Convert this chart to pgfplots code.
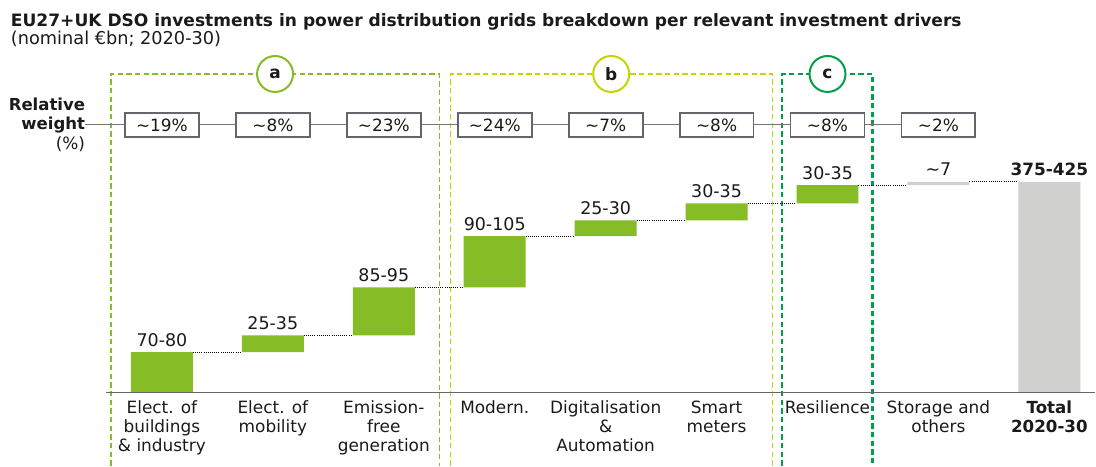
\documentclass[border=0pt]{standalone}
\usepackage{fontspec}
\setmainfont{DejaVu Sans}
\usepackage{pgfplots}
\pgfplotsset{compat=1.18}
\definecolor{dgreen}{HTML}{86BC25}
\definecolor{lgray}{HTML}{D0D0CE}
\definecolor{grpa}{HTML}{86BC25}
\definecolor{grpb}{HTML}{C4D600}
\definecolor{grpc}{HTML}{00A04A}
\definecolor{boxgray}{HTML}{63666A}
\definecolor{linegray}{HTML}{75787B}
\definecolor{txt}{HTML}{1A1A1A}
\pgfplotsset{frame/.style={
  x=83.25pt, y=0.395625pt,
  xmin=-1.4595, xmax=8.4144, ymin=-138.39, ymax=745.02,
  hide axis, clip=false, enlargelimits=false,
  at={(0,0)}, anchor=south west}}
\begin{document}
\begin{tikzpicture}[font=\fontsize{12.7}{14}\selectfont, text=txt]
\begin{axis}[frame, ybar stacked, bar width=46.5pt]
\path (rel axis cs:0,0) rectangle (rel axis cs:1,1);
% baseline
\draw[color=boxgray, line width=1pt] (axis cs:-0.5,0) -- (axis cs:8.4144,0);
% relative weight row line
\draw[linegray, line width=0.75pt] (axis cs:-0.69,508.1) -- (axis cs:7,508.1);
% connectors
\draw[black, densely dotted, line width=0.6pt] (axis cs:0.2793,77) -- (axis cs:0.7207,77);
\draw[black, densely dotted, line width=0.6pt] (axis cs:1.2793,109) -- (axis cs:1.7207,109);
\draw[black, densely dotted, line width=0.6pt] (axis cs:2.2793,200) -- (axis cs:2.7207,200);
\draw[black, densely dotted, line width=0.6pt] (axis cs:3.2793,297) -- (axis cs:3.7207,297);
\draw[black, densely dotted, line width=0.6pt] (axis cs:4.2793,327) -- (axis cs:4.7207,327);
\draw[black, densely dotted, line width=0.6pt] (axis cs:5.2793,359) -- (axis cs:5.7207,359);
\draw[black, densely dotted, line width=0.6pt] (axis cs:6.2793,394) -- (axis cs:6.7207,394);
\draw[black, densely dotted, line width=0.6pt] (axis cs:7.2793,400) -- (axis cs:7.7207,400);
% bars (invisible base + visible increments)
\addplot[draw=none, fill=none] coordinates {(0,0) (1,77) (2,109) (3,200) (4,297) (5,327) (6,359) (7,394) (8,0)};
\addplot[draw=none, fill=dgreen] coordinates {(0,77) (1,32) (2,91) (3,97) (4,30) (5,32) (6,35) (7,0) (8,0)};
\addplot[draw=none, fill=lgray] coordinates {(0,0) (1,0) (2,0) (3,0) (4,0) (5,0) (6,0) (7,6) (8,400)};
% group frames
\draw[grpa, line width=1.1pt, dash pattern=on 4pt off 2.5pt] (axis cs:-0.4595,-138.39) -- (axis cs:-0.4595,604.7) -- (axis cs:2.5,604.7) -- (axis cs:2.5,-138.39);
\draw[grpb, line width=1.1pt, dash pattern=on 4pt off 2.5pt] (axis cs:2.6009,-138.39) -- (axis cs:2.6009,604.7) -- (axis cs:5.5018,604.7) -- (axis cs:5.5018,-138.39);
\draw[grpc, line width=1.7pt, dash pattern=on 4pt off 2.5pt] (axis cs:5.5919,-138.39) -- (axis cs:5.5919,604.7) -- (axis cs:6.4054,604.7) -- (axis cs:6.4054,-138.39);
\end{axis}
\begin{axis}[frame]
\path (rel axis cs:0,0) rectangle (rel axis cs:1,1);
% value labels
\node[anchor=base, font=\fontsize{13.1}{14}\selectfont] at (axis cs:0,88.4) {70-80};
\node[anchor=base, font=\fontsize{13.1}{14}\selectfont] at (axis cs:1,120.4) {25-35};
\node[anchor=base, font=\fontsize{13.1}{14}\selectfont] at (axis cs:2,211.4) {85-95};
\node[anchor=base, font=\fontsize{13.1}{14}\selectfont] at (axis cs:3,308.4) {90-105};
\node[anchor=base, font=\fontsize{13.1}{14}\selectfont] at (axis cs:4,338.4) {25-30};
\node[anchor=base, font=\fontsize{13.1}{14}\selectfont] at (axis cs:5,370.4) {30-35};
\node[anchor=base, font=\fontsize{13.1}{14}\selectfont] at (axis cs:6,405.4) {30-35};
\node[anchor=base, font=\fontsize{13.1}{14}\selectfont] at (axis cs:7,413) {\textasciitilde 7};
\node[anchor=base, font=\bfseries\fontsize{12.7}{14}\selectfont] at (axis cs:8,413) {375-425};
% category labels
\node[anchor=north, align=center, inner sep=0] at (axis cs:0,-15) {Elect. of\\buildings\\\& industry};
\node[anchor=north, align=center, inner sep=0] at (axis cs:1,-15) {Elect. of\\mobility};
\node[anchor=north, align=center, inner sep=0] at (axis cs:2,-15) {Emission-\\free\\generation};
\node[anchor=north, align=center, inner sep=0] at (axis cs:3,-15) {Modern.};
\node[anchor=north, align=center, inner sep=0] at (axis cs:4,-15) {Digitalisation\\\&\\Automation};
\node[anchor=north, align=center, inner sep=0] at (axis cs:5,-15) {Smart\\meters};
\node[anchor=north, align=center, inner sep=0] at (axis cs:6,-15) {Resilience};
\node[anchor=north, align=center, inner sep=0] at (axis cs:7,-15) {Storage and\\others};
\node[anchor=north, align=center, inner sep=0, font=\bfseries\fontsize{12.5}{14}\selectfont] at (axis cs:8,-15) {Total\\2020-30};
% circles
\node[circle, draw=grpa, line width=1.5pt, fill=white, minimum size=27pt, inner sep=0, font=\bfseries\fontsize{12.7}{14}\selectfont] at (axis cs:1.02,604.7) {a};
\node[circle, draw=grpb, line width=1.5pt, fill=white, minimum size=27pt, inner sep=0, font=\bfseries\fontsize{12.7}{14}\selectfont] at (axis cs:4.05,604.7) {b};
\node[circle, draw=grpc, line width=1.5pt, fill=white, minimum size=27pt, inner sep=0, font=\bfseries\fontsize{12.7}{14}\selectfont] at (axis cs:6,604.7) {c};
% weight boxes
\node[draw=boxgray, line width=1.4pt, fill=white, minimum width=55.5pt, minimum height=18pt, inner sep=0] at (axis cs:0,508.1) {\textasciitilde 19\%};
\node[draw=boxgray, line width=1.4pt, fill=white, minimum width=55.5pt, minimum height=18pt, inner sep=0] at (axis cs:1,508.1) {\textasciitilde 8\%};
\node[draw=boxgray, line width=1.4pt, fill=white, minimum width=55.5pt, minimum height=18pt, inner sep=0] at (axis cs:2,508.1) {\textasciitilde 23\%};
\node[draw=boxgray, line width=1.4pt, fill=white, minimum width=55.5pt, minimum height=18pt, inner sep=0] at (axis cs:3,508.1) {\textasciitilde 24\%};
\node[draw=boxgray, line width=1.4pt, fill=white, minimum width=55.5pt, minimum height=18pt, inner sep=0] at (axis cs:4,508.1) {\textasciitilde 7\%};
\node[draw=boxgray, line width=1.4pt, fill=white, minimum width=55.5pt, minimum height=18pt, inner sep=0] at (axis cs:5,508.1) {\textasciitilde 8\%};
\node[draw=boxgray, line width=1.4pt, fill=white, minimum width=55.5pt, minimum height=18pt, inner sep=0] at (axis cs:6,508.1) {\textasciitilde 8\%};
\node[draw=boxgray, line width=1.4pt, fill=white, minimum width=55.5pt, minimum height=18pt, inner sep=0] at (axis cs:7,508.1) {\textasciitilde 2\%};
\node[anchor=base east, inner sep=0, font=\bfseries\fontsize{12.4}{14}\selectfont] at (axis cs:-0.69,535.2) {Relative};
\node[anchor=base east, inner sep=0, font=\bfseries\fontsize{12.4}{14}\selectfont] at (axis cs:-0.69,498.6) {weight};
\node[anchor=base east, inner sep=0] at (axis cs:-0.69,460.7) {(\%)};
% titles
\node[anchor=base west, inner sep=0, font=\bfseries\fontsize{12.8}{15}\selectfont] at (axis cs:-1.363,694.4) {EU27+UK DSO investments in power distribution grids breakdown per relevant investment drivers};
\node[anchor=base west, inner sep=0, font=\fontsize{13.3}{15}\selectfont] at (axis cs:-1.363,659.7) {(nominal €bn; 2020-30)};
\end{axis}
\end{tikzpicture}
\end{document}
